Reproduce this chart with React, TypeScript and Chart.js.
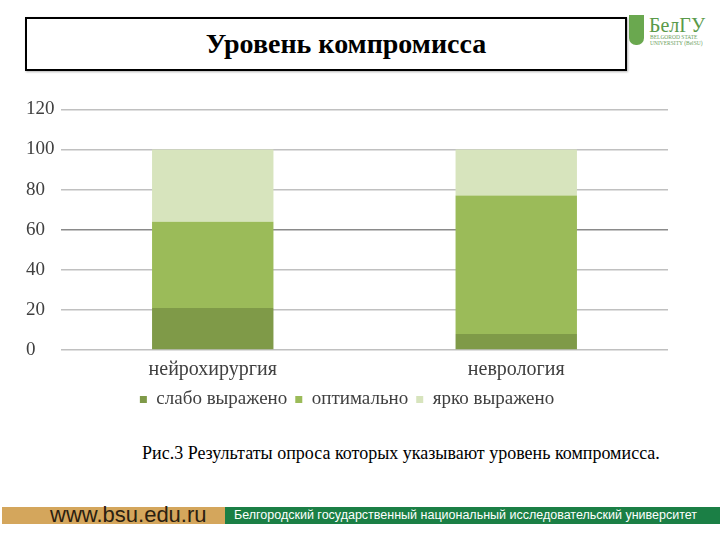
import React, { useEffect, useRef } from "react";
import { Chart, registerables } from "chart.js";

Chart.register(...registerables);

const categories = ["нейрохирургия", "неврология"];
const seriesNames = ["слабо выражено", "оптимально", "ярко выражено"];
const weak = [21, 8];
const optimal = [43, 69];
const bright = [36, 23];
const seriesColors = ["#7f9a48", "#9bbb59", "#d7e4bd"];
const yMax = 120;
const yStep = 20;

const titleText = "Уровень компромисса";
const captionText = "Рис.3 Результаты опроса которых указывают уровень компромисса.";
const siteText = "www.bsu.edu.ru";
const uniText = "Белгородский государственный национальный исследовательский университет";

const serif = "'Liberation Serif', 'Times New Roman', serif";

function BarChart() {
  const ref = useRef<HTMLCanvasElement | null>(null);
  useEffect(() => {
    if (!ref.current) return;
    const values = [weak, optimal, bright];
    const chart = new Chart(ref.current, {
      type: "bar",
      data: {
        labels: categories,
        datasets: seriesNames.map((name, i) => ({
          label: name,
          data: values[i],
          backgroundColor: seriesColors[i],
          borderWidth: 0,
          barPercentage: 0.4,
          categoryPercentage: 1,
        })),
      },
      options: {
        responsive: false,
        animation: false,
        devicePixelRatio: 1,
        layout: { padding: { left: 26, right: 32, top: 12, bottom: 1 } },
        plugins: {
          tooltip: { enabled: false },
          legend: {
            position: "bottom",
            labels: {
              boxWidth: 7,
              boxHeight: 7,
              padding: 8,
              color: "#404040",
              font: { family: serif, size: 19 },
            },
          },
        },
        scales: {
          x: {
            stacked: true,
            grid: { display: false },
            border: { display: false },
            ticks: {
              color: "#404040",
              padding: 0,
              font: { family: serif, size: 20 },
            },
          },
          y: {
            stacked: true,
            min: 0,
            max: yMax,
            afterFit: (s: any) => {
              s.width = 35;
            },
            grid: {
              drawTicks: false,
              lineWidth: 1.5,
              color: (c: any) => (c.tick && c.tick.value === 60 ? "#8a8a8a" : "#c0c0c0"),
            },
            border: { display: false },
            ticks: {
              stepSize: yStep,
              crossAlign: "far",
              color: "#404040",
              font: { family: serif, size: 19 },
            },
          },
        },
      },
    });
    return () => chart.destroy();
  }, []);
  return <canvas ref={ref} width={700} height={325} style={{ position: "absolute", left: 0, top: 95 }} />;
}

export default function App() {
  return (
    <div
      style={{
        position: "fixed",
        left: 0,
        top: 0,
        width: 720,
        height: 540,
        background: "#ffffff",
        overflow: "hidden",
      }}
    >
      <div
        style={{
          position: "absolute",
          left: 25,
          top: 17,
          width: 558,
          paddingLeft: 40,
          height: 50,
          border: "2px solid #000",
          boxShadow: "1px 1px 2px rgba(0,0,0,0.3)",
          display: "flex",
          alignItems: "center",
          justifyContent: "center",
          fontFamily: serif,
          fontWeight: "bold",
          fontSize: 28,
          color: "#000",
        }}
      >
        {titleText}
      </div>
      {/* logo */}
      <div
        style={{
          position: "absolute",
          left: 629,
          top: 15,
          width: 15,
          height: 30,
          background: "#6aa84f",
          borderRadius: "0 0 7px 7px",
        }}
      />
      <div
        style={{
          position: "absolute",
          left: 649,
          top: 15,
          fontFamily: serif,
          fontSize: 20,
          color: "#5a9a4a",
          lineHeight: "20px",
        }}
      >
        БелГУ
      </div>
      <div
        style={{
          position: "absolute",
          left: 650,
          top: 34,
          fontFamily: serif,
          fontSize: 5.5,
          color: "#6aa060",
          lineHeight: "6px",
        }}
      >
        BELGOROD STATE
        <br />
        UNIVERSITY (BelSU)
      </div>
      <BarChart />
      <div
        style={{
          position: "absolute",
          left: 142,
          top: 443,
          fontFamily: serif,
          fontSize: 18,
          color: "#000",
          whiteSpace: "nowrap",
        }}
      >
        {captionText}
      </div>
      <div
        style={{
          position: "absolute",
          left: 2,
          top: 507,
          width: 223,
          height: 17,
          background: "#d4a65c",
        }}
      />
      <div
        style={{
          position: "absolute",
          left: 225,
          top: 507,
          width: 495,
          height: 17,
          background: "#1b7f45",
        }}
      />
      <div
        style={{
          position: "absolute",
          left: 50,
          top: 502,
          fontFamily: "'Liberation Sans', Arial, sans-serif",
          fontSize: 22,
          lineHeight: "26px",
          color: "#2a2010",
          whiteSpace: "nowrap",
        }}
      >
        {siteText}
      </div>
      <div
        style={{
          position: "absolute",
          left: 234,
          top: 507,
          fontFamily: "'Liberation Sans', Arial, sans-serif",
          fontSize: 12.5,
          lineHeight: "17px",
          color: "#ffffff",
          whiteSpace: "nowrap",
        }}
      >
        {uniText}
      </div>
    </div>
  );
}
